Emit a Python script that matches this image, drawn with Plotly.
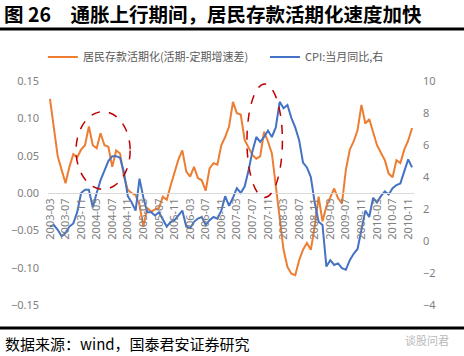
import plotly.graph_objects as go

# Monthly categories 2003-03 .. 2010-12
months = [f"{y}-{m:02d}" for y in range(2003, 2011) for m in range(1, 13)]
months = months[months.index("2003-03"):months.index("2010-12") + 1]
tick_labels = months[::4]

# 居民存款活期化(活期-定期增速差)  (left axis)
deposit_gap = [
    0.126, 0.084, 0.049, 0.031, 0.013, 0.035, 0.052, 0.048, 0.058, 0.064,
    0.089, 0.064, 0.060, 0.080, 0.064, 0.062, 0.035, 0.057, 0.053, 0.022,
    0.004, 0.000, -0.003, -0.016, -0.045, -0.020, -0.025, -0.022, -0.020, -0.005,
    -0.009, 0.010, 0.027, 0.045, 0.057, 0.029, 0.022, 0.035, 0.020, 0.017,
    0.003, 0.033, 0.040, 0.038, 0.064, 0.075, 0.089, 0.122, 0.107, 0.105,
    0.071, 0.062, 0.051, 0.046, 0.049, 0.082, 0.069, 0.053, 0.008, -0.036,
    -0.076, -0.099, -0.108, -0.110, -0.090, -0.076, -0.067, -0.076, -0.045, -0.005,
    -0.038, -0.018, -0.005, 0.006, -0.007, -0.014, 0.031, 0.058, 0.069, 0.084,
    0.118, 0.093, 0.099, 0.080, 0.064, 0.054, 0.044, 0.026, 0.021, 0.044,
    0.040, 0.058, 0.070, 0.087,
]

# CPI:当月同比 (right axis, %)
cpi = [
    0.9, 1.0, 0.7, 0.3, 0.5, 0.9, 1.1, 1.8, 3.0, 3.2,
    3.2, 2.1, 3.0, 3.8, 4.4, 5.0, 5.3, 5.3, 5.2, 4.3, 2.8, 2.4,
    1.9, 3.9, 2.7, 1.8, 1.8, 1.6, 1.8, 1.3, 0.9, 1.2, 1.3, 1.6,
    1.9, 0.9, 0.8, 1.2, 1.4, 1.5, 1.0, 1.3, 1.5, 1.4, 1.9, 2.8,
    2.2, 2.7, 3.3, 3.0, 3.4, 4.4, 5.6, 6.5, 6.2, 6.5, 6.9, 6.5,
    7.1, 8.7, 8.3, 8.5, 7.7, 7.1, 6.3, 4.9, 4.6, 4.0, 2.4, 1.2,
    1.0, -1.6, -1.2, -1.5, -1.4, -1.7, -1.8, -1.2, -0.8, -0.5, 0.6, 1.9,
    1.5, 2.7, 2.4, 2.8, 3.1, 2.9, 3.3, 3.5, 3.6, 4.4, 5.1, 4.6,
]

# highlighted periods (dashed ellipses): category index span and left-axis span
ellipses = [
    dict(x0=6.7, x1=20.6, y0=0.005, y1=0.109),
    dict(x0=50.6, x1=59.7, y0=-0.006, y1=0.146),
]

title_text = "图 26　通胀上行期间，居民存款活期化速度加快"
source_text = "数据来源：wind，国泰君安证券研究"

ORANGE = "#ED7D31"
BLUE = "#4472C4"
GREY = "#7f7f7f"
CJK = "Noto Sans CJK SC"

fig = go.Figure()
fig.add_trace(go.Scatter(x=months, y=deposit_gap, mode="lines",
                         name="居民存款活期化(活期-定期增速差)",
                         line=dict(color=ORANGE, width=2), legend="legend"))
fig.add_trace(go.Scatter(x=months, y=cpi, mode="lines", name="CPI:当月同比,右",
                         line=dict(color=BLUE, width=2), yaxis="y2",
                         legend="legend2"))

for e in ellipses:
    fig.add_shape(type="circle", xref="x", yref="y", x0=e["x0"], x1=e["x1"],
                  y0=e["y0"], y1=e["y1"],
                  line=dict(color="#C00000", width=1.5, dash="dash"))

# header / footer rules
fig.add_shape(type="line", xref="paper", yref="paper", x0=-0.14, x1=1.15,
              y0=1.232, y1=1.232, line=dict(color="black", width=3))
fig.add_shape(type="line", xref="paper", yref="paper", x0=-0.14, x1=1.15,
              y0=-0.103, y1=-0.103, line=dict(color="black", width=3))

fig.add_annotation(text=source_text, xref="paper", yref="paper",
                   x=-0.123, y=-0.17, xanchor="left", yanchor="middle",
                   showarrow=False, font=dict(family=CJK, size=15, color="black"))
fig.add_annotation(text="谈股问君", xref="paper", yref="paper",
                   x=1.035, y=-0.155, xanchor="center", yanchor="middle",
                   showarrow=False, font=dict(family=CJK, size=11, color="#b8b8b8"))

legend_common = dict(orientation="h", y=1.107, xanchor="left", yanchor="middle",
                     font=dict(family=CJK, size=11, color="#595959"),
                     bgcolor="rgba(0,0,0,0)")

fig.update_layout(
    width=464, height=356,
    margin=dict(l=48, r=50, t=81, b=51),
    paper_bgcolor="white", plot_bgcolor="white",
    title=dict(text=title_text, x=4 / 464, xanchor="left", xref="container",
               y=1 - 15 / 356, yanchor="middle", yref="container",
               font=dict(family=CJK, size=19.5, color="black", weight="bold")),
    showlegend=True,
    legend=dict(x=-0.014, **legend_common),
    legend2=dict(x=0.593, **legend_common),
    xaxis=dict(type="category", range=[-0.5, len(months) - 0.5],
               tickmode="array", tickvals=tick_labels, ticktext=tick_labels,
               tickangle=-90, anchor="free", position=0.5,
               showline=True, linecolor="#d9d9d9", linewidth=1,
               showgrid=False, zeroline=False, ticks="",
               tickfont=dict(family="Noto Sans", size=11, color=GREY)),
    yaxis=dict(range=[-0.15, 0.15], dtick=0.05, tick0=0, tickformat=".2f",
               showgrid=False, zeroline=False, showline=False,
               ticklabelstandoff=8,
               tickfont=dict(family="Noto Sans", size=11, color=GREY)),
    yaxis2=dict(range=[-4, 10], dtick=2, tick0=0, overlaying="y", side="right",
                showgrid=False, zeroline=False, showline=False,
                ticklabelstandoff=8,
                tickfont=dict(family="Noto Sans", size=11, color=GREY)),
)

fig.write_html(
    "out.html",
    config={"displayModeBar": False},
    post_script="document.body.style.margin='0';document.body.style.padding='0';"
                "document.body.style.overflow='hidden';",
)
